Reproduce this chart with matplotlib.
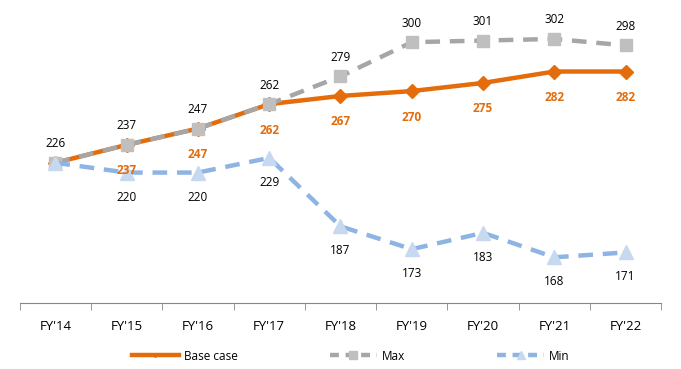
import matplotlib
matplotlib.use("Agg")
import matplotlib.pyplot as plt
from matplotlib.lines import Line2D

categories = ["FY'14", "FY'15", "FY'16", "FY'17", "FY'18", "FY'19", "FY'20", "FY'21", "FY'22"]
base_case = [226, 237, 247, 262, 267, 270, 275, 282, 282]
max_vals = [226, 237, 247, 262, 279, 300, 301, 302, 298]
min_vals = [226, 220, 220, 229, 187, 173, 183, 168, 171]

plt.rcParams['font.family'] = ['Open Sans', 'DejaVu Sans']

fig = plt.figure(figsize=(6.81, 3.69), dpi=100)
ax = fig.add_axes([0.029, 0.179, 0.942, 0.795])

x = list(range(len(categories)))
orange = '#E46C0A'
gray_line = '#A6A6A6'
gray_mk = '#BFBFBF'
blue_line = '#8EB4E3'
blue_mk = '#C6D9F1'

ax.plot(x, base_case, color=orange, lw=3.2, marker='D', ms=7, mfc=orange, mec=orange, zorder=3)
ax.plot(x, max_vals, color=gray_line, lw=3.2, dashes=(3.3, 2.2), marker='s', ms=9, mfc=gray_mk, mec=gray_mk, zorder=4)
ax.plot(x, min_vals, color=blue_line, lw=3.2, dashes=(3.3, 2.2), marker='^', ms=10, mfc=blue_mk, mec=blue_mk, zorder=5)

for i in range(len(x)):
    ax.annotate(str(max_vals[i]), (x[i], max_vals[i]), xytext=(0, 9), textcoords='offset points',
                ha='center', va='bottom', fontsize=8.5, color='black', zorder=6)
    if i > 0:
        ax.annotate(str(base_case[i]), (x[i], base_case[i]), xytext=(0, -14), textcoords='offset points',
                    ha='center', va='top', fontsize=8.5, color=orange, fontweight='bold', zorder=6)
        ax.annotate(str(min_vals[i]), (x[i], min_vals[i]), xytext=(0, -13), textcoords='offset points',
                    ha='center', va='top', fontsize=8.5, color='black', zorder=6)

ax.set_xlim(-0.5, len(x) - 0.5)
ax.set_ylim(140, 320)
for s in ['top', 'right', 'left']:
    ax.spines[s].set_visible(False)
ax.spines['bottom'].set_color('#868686')
ax.set_yticks([])
ax.set_xticks(x)
ax.set_xticklabels(categories, fontsize=9.5)
ax.tick_params(axis='x', which='major', length=0, pad=12)
ax.set_xticks([i - 0.5 for i in range(len(x) + 1)], minor=True)
ax.tick_params(axis='x', which='minor', length=5, color='#868686', direction='out')

handles = [
    Line2D([], [], color=orange, lw=3.2, marker='D', ms=2, mfc=orange, mec=orange),
    Line2D([], [], color=gray_line, lw=3.2, dashes=(2, 1.5), marker='s', ms=6, mfc=gray_mk, mec=gray_mk),
    Line2D([], [], color=blue_line, lw=3.2, dashes=(2, 1.5), marker='^', ms=6, mfc=blue_mk, mec=blue_mk),
]
fig.legend(handles, ['Base case', 'Max', 'Min'], loc='center', bbox_to_anchor=(0.515, 0.035),
           ncol=3, frameon=False, fontsize=8.5, handlelength=4.0, columnspacing=7.8, handletextpad=0.4)

fig.savefig('out.png', dpi=100)
